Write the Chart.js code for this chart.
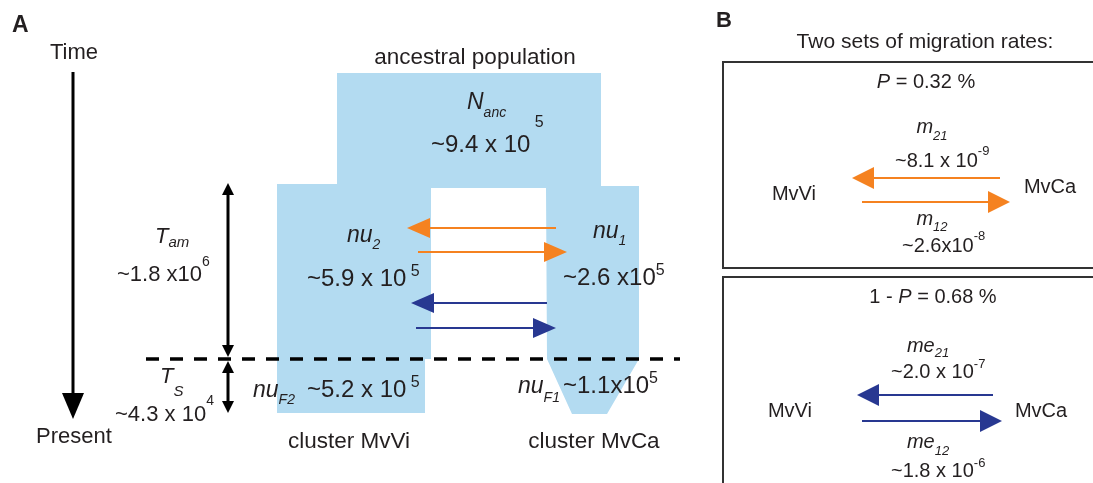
<!DOCTYPE html>
<html>
<head>
<meta charset="utf-8">
<script src="https://cdn.jsdelivr.net/npm/chart.js@4.4.1/dist/chart.umd.min.js"></script>
<style>
  html, body { margin: 0; padding: 0; background: #fff; }
  #wrap { width: 1093px; height: 483px; position: relative; }
</style>
</head>
<body>
<div id="wrap"><canvas id="fig"></canvas></div>
<script>
// figure space: x to the right, y downwards, same units as the original figure
const popX = [337, 601, 601, 639, 639, 607, 572, 547, 546, 431, 431, 425, 425, 277, 277, 337];
const popY = [73, 73, 186, 186, 359, 414, 414, 359, 188, 188, 359, 359, 413, 413, 184, 184];

// migration arrows (start x, tip x, y)
const migA_from = [556, 418, 547, 416];
const migA_tip = [407, 567, 411, 556];
const migA_y = [228, 252, 303, 328];
const migB_from = [1000, 862, 993, 862];
const migB_tip = [852, 1010, 857, 1002];
const migB_y = [178, 202, 395, 421];
const migColors = ['#f58220', '#f58220', '#283891', '#283891'];

// time arrow and epoch spans (y from, y to)
const timeSpan = [72, 419];
const tamSpan = [183, 357];
const tsSpan = [361, 413];
const splitLine = [146, 680, 359];

// boxes of panel B (top, bottom)
const boxTop = [62, 277];
const boxBottom = [268, 490];

const INK = '#231f20';
const FILL = '#b3dbf1';
const FONT = '"Liberation Sans", Arial, Helvetica, sans-serif';

// [x, y, align, runs]; run = [text, size, style, dy]
const labels = [
  [12, 32, 'left', [['A', 23, 'b']]],
  [74, 59, 'center', [['Time', 22]]],
  [74, 443, 'center', [['Present', 22]]],
  [155, 243, 'left', [['T', 22, 'i'], ['am', 15, 'i', 4]]],
  [117, 281, 'left', [['~1.8 x10', 22], ['6', 14, 'n', -15]]],
  [160, 383, 'left', [['T', 22, 'i'], ['S', 15, 'i', 13]]],
  [115, 421, 'left', [['~4.3 x 10', 22], ['4', 14, 'n', -16]]],
  [475, 64, 'center', [['ancestral population', 22.5]]],
  [467, 109, 'left', [['N', 23, 'i'], ['anc', 14, 'i', 8]]],
  [431, 152, 'left', [['~9.4 x 10', 24], [' 5', 16, 'n', -25]]],
  [347, 242, 'left', [['nu', 23, 'i'], ['2', 14, 'i', 7]]],
  [307, 286, 'left', [['~5.9 x 10', 24], [' 5', 16, 'n', -10]]],
  [593, 238, 'left', [['nu', 23, 'i'], ['1', 14, 'i', 7]]],
  [563, 285, 'left', [['~2.6 x10', 24], ['5', 16, 'n', -10]]],
  [253, 397, 'left', [['nu', 23, 'i'], ['F2', 14, 'i', 7]]],
  [307, 397, 'left', [['~5.2 x 10', 24], [' 5', 16, 'n', -10]]],
  [518, 393, 'left', [['nu', 23, 'i'], ['F1', 14, 'i', 9]]],
  [563, 393, 'left', [['~1.1x10', 24], ['5', 16, 'n', -10]]],
  [349, 448, 'center', [['cluster MvVi', 22.5]]],
  [594, 448, 'center', [['cluster MvCa', 22.5]]],

  [716, 27, 'left', [['B', 22, 'b']]],
  [925, 48, 'center', [['Two sets of migration rates:', 21]]],
  [926, 88, 'center', [['P', 20, 'i'], [' = 0.32 %', 20]]],
  [932, 133, 'center', [['m', 20, 'i'], ['21', 13, 'i', 7]]],
  [895, 167, 'left', [['~8.1 x 10', 20], ['-9', 13, 'n', -12]]],
  [794, 200, 'center', [['MvVi', 20]]],
  [1050, 193, 'center', [['MvCa', 20]]],
  [932, 225, 'center', [['m', 20, 'i'], ['12', 13, 'i', 6]]],
  [902, 252, 'left', [['~2.6x10', 20], ['-8', 13, 'n', -12]]],
  [933, 303, 'center', [['1 - ', 20], ['P', 20, 'i'], [' = 0.68 %', 20]]],
  [928, 352, 'center', [['me', 20, 'i'], ['21', 13, 'i', 5]]],
  [891, 378, 'left', [['~2.0 x 10', 20], ['-7', 13, 'n', -10]]],
  [790, 417, 'center', [['MvVi', 20]]],
  [1041, 417, 'center', [['MvCa', 20]]],
  [928, 448, 'center', [['me', 20, 'i'], ['12', 13, 'i', 7]]],
  [891, 477, 'left', [['~1.8 x 10', 20], ['-6', 13, 'n', -10]]]
];

function pts(xs, ys) { return xs.map((x, i) => ({ x, y: ys[i] })); }

function shape(points, color, order) {
  return { data: points, fill: 'shape', backgroundColor: color, borderColor: 'rgba(0,0,0,0)',
    borderWidth: 0, pointRadius: 0, order: order || 0 };
}
function stroke(points, color, width, dash) {
  return { data: points, fill: false, borderColor: color, borderWidth: width, borderDash: dash || [],
    pointRadius: 0, order: 0 };
}

// horizontal arrow: shaft + triangular head
function hArrow(from, tip, y, color, len, half, width) {
  const dir = tip > from ? 1 : -1;
  const base = tip - dir * len;
  return [
    stroke([{ x: from, y }, { x: base + dir, y }], color, width),
    shape([{ x: base, y: y - half }, { x: tip, y }, { x: base, y: y + half }], color)
  ];
}
// vertical arrow between y0 and y1, heads at the listed ends
function vArrow(x, y0, y1, heads, len, half, width) {
  const out = [stroke([{ x, y: heads.includes(0) ? y0 + len - 1 : y0 }, { x, y: heads.includes(1) ? y1 - len + 1 : y1 }], '#000', width)];
  if (heads.includes(0)) out.push(shape([{ x: x - half, y: y0 + len }, { x, y: y0 }, { x: x + half, y: y0 + len }], '#000'));
  if (heads.includes(1)) out.push(shape([{ x: x - half, y: y1 - len }, { x, y: y1 }, { x: x + half, y: y1 - len }], '#000'));
  return out;
}

const datasets = [];
datasets.push(shape(pts(popX, popY), FILL, 10));
datasets.push(stroke([{ x: splitLine[0], y: splitLine[2] }, { x: splitLine[1], y: splitLine[2] }], '#000', 3.5, [13, 11]));
datasets.push(...vArrow(73, timeSpan[0], timeSpan[1], [1], 26, 11, 3));
datasets.push(...vArrow(228, tamSpan[0], tamSpan[1], [0, 1], 12, 6, 3));
datasets.push(...vArrow(228, tsSpan[0], tsSpan[1], [0, 1], 12, 6, 3));
migA_from.forEach((f, i) => datasets.push(...hArrow(f, migA_tip[i], migA_y[i], migColors[i], 23, 10, 2.2)));
migB_from.forEach((f, i) => datasets.push(...hArrow(f, migB_tip[i], migB_y[i], migColors[i], 22, 11, 2.2)));
boxTop.forEach((t, i) => {
  datasets.push(stroke([{ x: 1100, y: t }, { x: 723, y: t }, { x: 723, y: boxBottom[i] }, { x: 1100, y: boxBottom[i] }], '#333', 2));
});

const textPlugin = {
  id: 'figText',
  afterDatasetsDraw(chart) {
    const { ctx, scales: { x, y } } = chart;
    const fontOf = r => (r[2] === 'i' ? 'italic ' : r[2] === 'b' ? 'bold ' : '') + r[1] + 'px ' + FONT;
    ctx.save();
    ctx.fillStyle = INK;
    ctx.textBaseline = 'alphabetic';
    ctx.textAlign = 'left';
    labels.forEach(([lx, ly, align, runs]) => {
      const widths = runs.map(r => { ctx.font = fontOf(r); return ctx.measureText(r[0]).width; });
      const total = widths.reduce((a, b) => a + b, 0);
      let px = x.getPixelForValue(lx) - (align === 'center' ? total / 2 : 0);
      const py = y.getPixelForValue(ly);
      runs.forEach((r, i) => {
        ctx.font = fontOf(r);
        ctx.fillText(r[0], px, py + (r[3] || 0));
        px += widths[i];
      });
    });
    ctx.restore();
  }
};

new Chart(document.getElementById('fig'), {
  type: 'line',
  data: { datasets },
  options: {
    responsive: true,
    maintainAspectRatio: false,
    animation: false,
    events: [],
    layout: { padding: 0 },
    plugins: { legend: { display: false }, tooltip: { enabled: false } },
    scales: {
      x: { type: 'linear', min: 0, max: 1093, display: false },
      y: { type: 'linear', min: 0, max: 483, reverse: true, display: false }
    }
  },
  plugins: [textPlugin]
});
</script>
</body>
</html>
